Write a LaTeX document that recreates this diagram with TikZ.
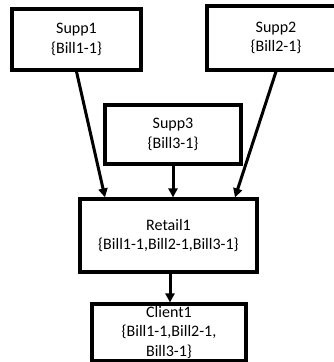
\documentclass[tikz,border=0pt]{standalone}
\usepackage{fontspec}
\setmainfont{Carlito}
\usepackage{tikz}
\usetikzlibrary{arrows.meta,positioning}

\begin{document}
\begin{tikzpicture}[x=1pt, y=-1pt,
  every node/.style={font=\fontsize{16}{19.5}\selectfont},
  box/.style={draw, line width=3.2pt, align=center, inner sep=0pt},
  arr/.style={-{Triangle[length=9pt, width=9pt]}, line width=3pt}
]
\useasboundingbox (0,0) rectangle (333,362);
\node[box, minimum width=129pt, minimum height=61pt] (s1) at (76.5,39.5) {Supp1\\\{Bill1-1\}};
\node[box, minimum width=138pt, minimum height=64pt] (s2) at (276,38) {Supp2\\\{Bill2-1\}};
\node[box, minimum width=136pt, minimum height=59pt] (s3) at (173,134.5) {Supp3\\\{Bill3-1\}};
\node[box, minimum width=177pt, minimum height=73pt] (r1) at (168.5,235.5) {Retail1\\\{Bill1-1,Bill2-1,Bill3-1\}};
\node[box, minimum width=154pt, minimum height=57pt] (c1) at (169,332.5) {Client1\\\{Bill1-1,Bill2-1,\\Bill3-1\}};
\draw[arr] (s1.south) -- (r1.north -| 105,0);
\draw[arr] (s3) -- (r1.north -| s3);
\draw[arr] (s2.south) -- (r1.north -| 235,0);
\draw[arr] (r1.south -| 170,0) -- (c1.north -| 170,0);
\end{tikzpicture}
\end{document}
